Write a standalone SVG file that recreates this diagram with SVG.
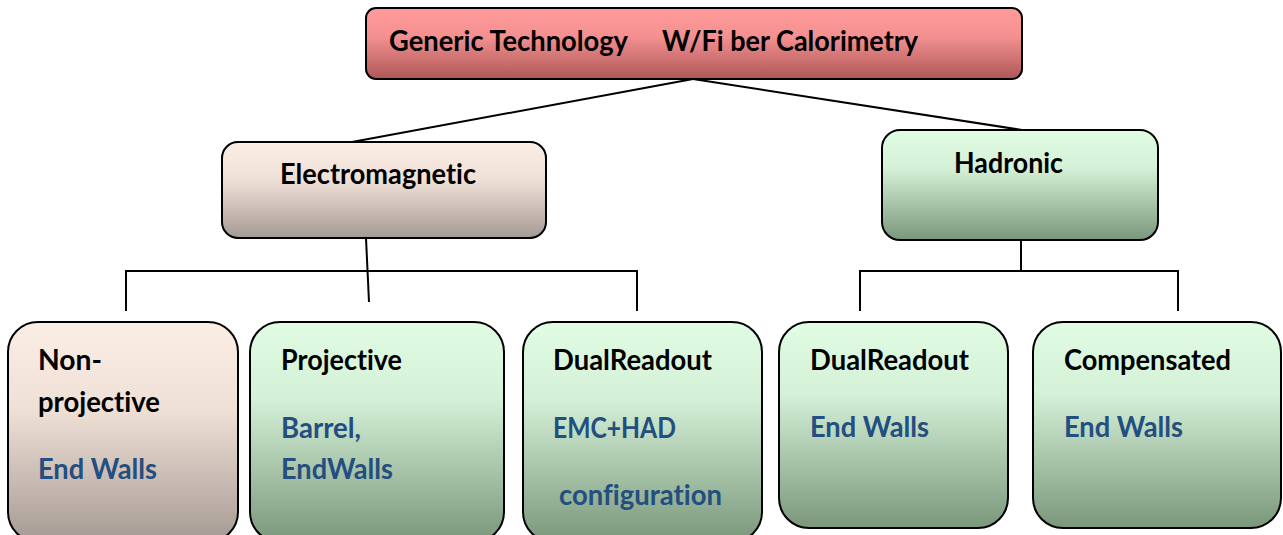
<svg xmlns="http://www.w3.org/2000/svg" width="1283" height="535" viewBox="0 0 1283 535">
  <style>
    .box { stroke: #000; stroke-width: 2; }
    .t { font-family: Lato, "Open Sans", "Liberation Sans", sans-serif; font-weight: bold; font-size: 28px; fill: #000; font-variant-ligatures: none; font-feature-settings: "liga" 0, "dlig" 0; }
    .b { fill: #234e80; }
    .conn { stroke: #000; stroke-width: 2; fill: none; }
  </style>
  <defs>
    <linearGradient id="gRed" x1="0" y1="0" x2="0" y2="1">
      <stop offset="0" stop-color="#ff9b9b"/>
      <stop offset="0.4" stop-color="#f49090"/>
      <stop offset="1" stop-color="#ae5757"/>
    </linearGradient>
    <linearGradient id="gBeige" x1="0" y1="0" x2="0" y2="1">
      <stop offset="0" stop-color="#fbeee5"/>
      <stop offset="0.4" stop-color="#efe0d6"/>
      <stop offset="1" stop-color="#a59a94"/>
    </linearGradient>
    <linearGradient id="gGreen" x1="0" y1="0" x2="0" y2="1">
      <stop offset="0" stop-color="#e0fce2"/>
      <stop offset="0.35" stop-color="#d4f0d6"/>
      <stop offset="1" stop-color="#7a977c"/>
    </linearGradient>
  </defs>

  <g id="connectors">
    <line class="conn" x1="693" y1="79" x2="352" y2="142"/>
    <line class="conn" x1="693" y1="79" x2="1022" y2="130"/>
    <line class="conn" x1="366" y1="238" x2="369" y2="302"/>
    <polyline class="conn" points="126,311 126,271 637,271 637,311"/>
    <line class="conn" x1="1021" y1="240" x2="1021" y2="271"/>
    <polyline class="conn" points="860,311 860,271 1178,271 1178,311"/>
  </g>

  <g id="node-root">
    <rect class="box" x="366" y="8" width="656" height="71" rx="10" fill="url(#gRed)"/>
    <text class="t" x="389" y="51" textLength="239" lengthAdjust="spacingAndGlyphs">Generic Technology</text>
    <text class="t" x="662" y="51" textLength="256" lengthAdjust="spacingAndGlyphs">W/Fi ber Calorimetry</text>
  </g>

  <g id="node-em">
    <rect class="box" x="222" y="142" width="324" height="96" rx="16" fill="url(#gBeige)"/>
    <text class="t" x="280" y="184" textLength="196" lengthAdjust="spacingAndGlyphs">Electromagnetic</text>
  </g>

  <g id="node-had">
    <rect class="box" x="882" y="130" width="276" height="110" rx="18" fill="url(#gGreen)"/>
    <text class="t" x="954" y="173" textLength="109" lengthAdjust="spacingAndGlyphs">Hadronic</text>
  </g>

  <g id="node-nonproj">
    <rect class="box" x="8" y="322" width="230" height="220" rx="30" fill="url(#gBeige)"/>
    <text class="t" x="38" y="370" textLength="64" lengthAdjust="spacingAndGlyphs">Non-</text>
    <text class="t" x="38" y="412" textLength="122" lengthAdjust="spacingAndGlyphs">projective</text>
    <text class="t b" x="38" y="479" textLength="119" lengthAdjust="spacingAndGlyphs">End Walls</text>
  </g>

  <g id="node-proj">
    <rect class="box" x="250" y="322" width="254" height="220" rx="30" fill="url(#gGreen)"/>
    <text class="t" x="281" y="370" textLength="121" lengthAdjust="spacingAndGlyphs">Projective</text>
    <text class="t b" x="281" y="438" textLength="80" lengthAdjust="spacingAndGlyphs">Barrel,</text>
    <text class="t b" x="281" y="479" textLength="112" lengthAdjust="spacingAndGlyphs">EndWalls</text>
  </g>

  <g id="node-dr-em">
    <rect class="box" x="523" y="322" width="239" height="220" rx="30" fill="url(#gGreen)"/>
    <text class="t" x="553" y="370" textLength="159" lengthAdjust="spacingAndGlyphs">DualReadout</text>
    <text class="t b" x="553" y="438" textLength="123" lengthAdjust="spacingAndGlyphs">EMC+HAD</text>
    <text class="t b" x="559" y="505" textLength="163" lengthAdjust="spacingAndGlyphs">configuration</text>
  </g>

  <g id="node-dr-had">
    <rect class="box" x="779" y="322" width="229" height="206" rx="30" fill="url(#gGreen)"/>
    <text class="t" x="810" y="370" textLength="159" lengthAdjust="spacingAndGlyphs">DualReadout</text>
    <text class="t b" x="810" y="437" textLength="119" lengthAdjust="spacingAndGlyphs">End Walls</text>
  </g>

  <g id="node-comp">
    <rect class="box" x="1033" y="322" width="248" height="206" rx="30" fill="url(#gGreen)"/>
    <text class="t" x="1064" y="370" textLength="167" lengthAdjust="spacingAndGlyphs">Compensated</text>
    <text class="t b" x="1064" y="437" textLength="119" lengthAdjust="spacingAndGlyphs">End Walls</text>
  </g>
</svg>
